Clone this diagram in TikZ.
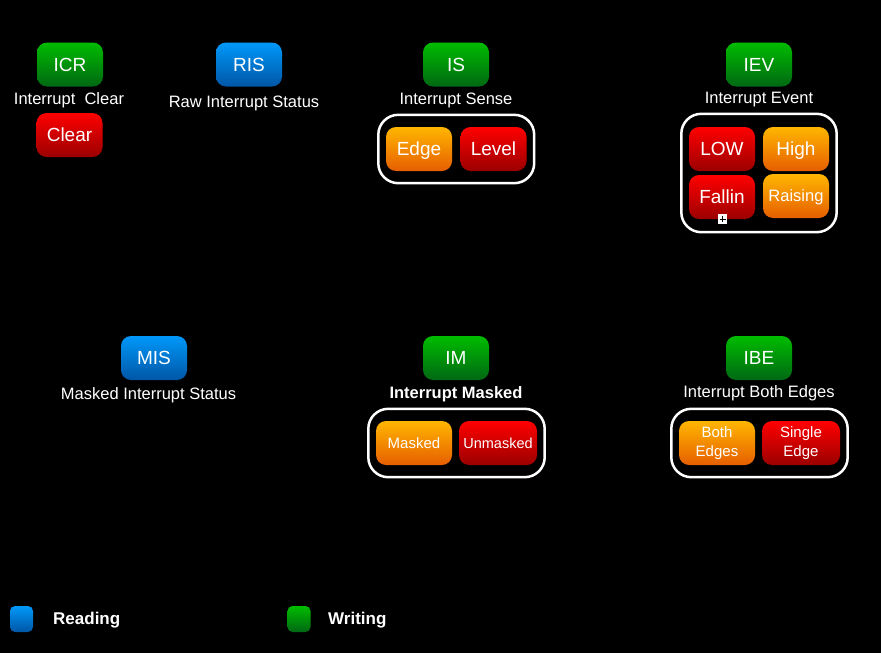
\documentclass[tikz,border=0pt]{standalone}
\usepackage{fontspec}
\setmainfont{Liberation Sans}
\usetikzlibrary{fit}
\definecolor{greenTop}{RGB}{0,188,0}
\definecolor{greenBot}{RGB}{0,104,20}
\definecolor{blueTop}{RGB}{0,152,250}
\definecolor{blueBot}{RGB}{0,86,166}
\definecolor{redTop}{RGB}{255,0,0}
\definecolor{redBot}{RGB}{155,0,0}
\definecolor{orangeTop}{RGB}{255,182,0}
\definecolor{orangeBot}{RGB}{230,94,0}
\tikzset{
  regButton/.style={
    rounded corners=10pt,
    minimum width=66pt,
    minimum height=44pt,
    inner sep=0pt,
    text=white,
    text height=13.6pt,
    text depth=0pt,
    font=\fontsize{19}{19}\selectfont
  },
  smallText/.style={
    text height=#1,
    font=\fontsize{#1/0.72}{#1/0.72}\selectfont
  },
  writeReg/.style={regButton, top color=greenTop, bottom color=greenBot},
  readReg/.style={regButton, top color=blueTop, bottom color=blueBot},
  redOption/.style={regButton, top color=redTop, bottom color=redBot},
  orangeOption/.style={regButton, top color=orangeTop, bottom color=orangeBot},
  twoLines/.style={
    text height=, text depth=,
    align=center,
    font=\fontsize{15}{19}\selectfont
  },
  regLabel/.style={
    text=white,
    inner sep=0pt,
    font=\fontsize{16.5}{16.5}\selectfont
  },
  optionGroup/.style={
    draw=white,
    line width=2.5pt,
    rounded corners=20pt,
    inner xsep=7.5pt,
    inner ysep=12pt
  },
  legendKey/.style={
    rounded corners=5pt,
    minimum width=23pt,
    minimum height=26pt,
    inner sep=0pt
  },
  legendText/.style={
    text=white,
    anchor=west,
    inner sep=0pt,
    font=\bfseries\fontsize{17}{17}\selectfont
  }
}

\begin{document}
\begin{tikzpicture}[x=1pt, y=-1pt]
% background (fixes the page size)
\useasboundingbox (0,0) rectangle (881,653);
\fill[black] (0,0) rectangle (881,653);

% === ICR ===
\node[writeReg] (icr) at (70,64.5) {ICR};
\node[regLabel] (icr-label) at (69,100) {Interrupt\ \ Clear};
\node[redOption] (clear) at (69.5,135) {Clear};

% === RIS ===
\node[readReg] (ris) at (249,64.5) {RIS};
\node[regLabel] (ris-label) at (244,103) {Raw Interrupt Status};

% === IS ===
\node[writeReg] (is) at (456,64.5) {IS};
\node[regLabel] (is-label) at (456,100) {Interrupt Sense};
\node[orangeOption] (edge) at (419,149) {Edge};
\node[redOption] (level) at (493.5,149) {Level};
\node[optionGroup, fit=(edge)(level)] (is-group) {};

% === IEV ===
\node[writeReg] (iev) at (759,64.5) {IEV};
\node[regLabel] (iev-label) at (759,100) {Interrupt Event};
\node[redOption] (low) at (722,149) {LOW};
\node[orangeOption] (high) at (796,149) {High};
\node[redOption] (fallin) at (722,197) {Fallin};
\node[orangeOption, text height=11.9pt, font=\fontsize{16.5}{16.5}\selectfont] (raising) at (796,196) {Raising};
\node[optionGroup, fit=(low)(high)(fallin)(raising), inner ysep=13pt] (iev-group) {};

% mouse cursor under Fallin
\fill[white] (718,214) rectangle (727,224);
\draw[black, line width=1pt] (719.5,219) -- (725.5,219) (722.5,216) -- (722.5,222);

% === MIS ===
\node[readReg] (mis) at (154,358) {MIS};
\node[regLabel] (mis-label) at (148.5,395) {Masked Interrupt Status};

% === IM ===
\node[writeReg] (im) at (456,358) {IM};
\node[regLabel, font=\bfseries\fontsize{16.5}{16.5}\selectfont] (im-label) at (456,394) {Interrupt Masked};
\node[orangeOption, minimum width=76pt, text height=10.8pt, font=\fontsize{15}{15}\selectfont] (masked) at (414,443) {Masked};
\node[redOption, minimum width=78pt, text height=10.4pt, font=\fontsize{14.5}{14.5}\selectfont] (unmasked) at (498,443) {Unmasked};
\node[optionGroup, fit=(masked)(unmasked)] (im-group) {};

% === IBE ===
\node[writeReg] (ibe) at (759,358) {IBE};
\node[regLabel] (ibe-label) at (759,393) {Interrupt Both Edges};
\node[orangeOption, minimum width=76pt, twoLines] (both) at (717,443) {Both\\Edges};
\node[redOption, minimum width=78pt, twoLines] (single) at (801,443) {Single\\Edge};
\node[optionGroup, fit=(both)(single)] (ibe-group) {};

% === Legend ===
\node[legendKey, top color=blueTop, bottom color=blueBot] (key-read) at (21.5,619) {};
\node[legendText] (read-text) at (53,620) {Reading};
\node[legendKey, top color=greenTop, bottom color=greenBot] (key-write) at (299,619) {};
\node[legendText] (write-text) at (328,620) {Writing};

\end{tikzpicture}
\end{document}
